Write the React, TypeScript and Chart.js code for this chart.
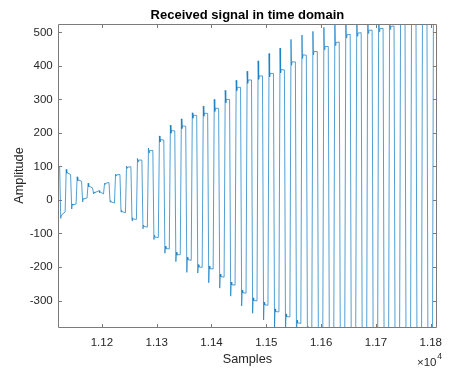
import React, { useEffect, useRef } from "react";
import { Chart, registerables } from "chart.js";

Chart.register(...registerables);

// Samples before the first edge
const leadSamples = [11120, 11123];
const leadValues = [101, 99];

// Each half-period segment starts with an edge at these samples
const segStart = [
  11125, 11135, 11145, 11155, 11165, 11175, 11185, 11195, 11205, 11215,
  11225, 11235, 11245, 11255, 11265, 11275, 11285, 11295, 11305, 11315,
  11325, 11335, 11345, 11355, 11365, 11375, 11385, 11395, 11405, 11415,
  11425, 11435, 11445, 11455, 11465, 11475, 11485, 11495, 11505, 11515,
  11525, 11535, 11545, 11555, 11565, 11575, 11585, 11595, 11605, 11615,
  11625, 11635, 11645, 11655, 11665, 11675, 11685, 11695, 11705, 11715,
  11725, 11735, 11745, 11755, 11765, 11775, 11785, 11795, 11805,
];
// overshoot value right after the edge
const spikeValues = [
  -55, 91, -27, 69, -6, 50, 18, 28, 50, -6,
  77, -36, 101, -62, 124, -86, 155, -118, 191, -159,
  223, -184, 242, -216, 260, -218, 280, -247, 300, -263,
  327, -287, 357, -316, 384, -338, 415, -358, 437, -385,
  453, -395, 479, -410, 492, -425, 503, -440, 515, -455,
  540, -470, 560, -485, 575, -495, 590, -505, 600, -515,
  610, -525, 625, -535, 640, -545, 655, -555, 665,
];
// ringing dip after the overshoot
const dipValues = [
  -46, 80, -12, 58, 4, 40, 24, 22, 47, -2,
  72, -31, 95, -53, 114, -75, 141, -105, 173, -138,
  199, -156, 213, -171, 244, -193, 250, -197, 264, -221,
  290, -245, 326, -269, 348, -292, 360, -305, 367, -325,
  379, -340, 402, -359, 422, -377, 433, -392, 448, -407,
  461, -422, 484, -437, 489, -449, 497, -459, 502, -469,
  509, -479, 527, -489, 539, -499, 551, -509, 563,
];
// plateau level at start and end of each segment
const levelStart = [
  -44, 81, -15, 60, 3, 41, 22, 24, 50, -6,
  75, -35, 98, -57, 119, -79, 147, -111, 180, -145,
  207, -164, 221, -178, 253, -200, 259, -205, 274, -229,
  300, -253, 336, -277, 358, -300, 370, -313, 378, -333,
  389, -348, 412, -367, 433, -385, 443, -400, 458, -415,
  470, -430, 493, -445, 498, -457, 506, -467, 511, -477,
  518, -487, 536, -497, 548, -507, 560, -517, 572,
];
const levelEnd = [
  -36, 76, -12, 56, 6, 36, 26, 18, 52, -9,
  76, -38, 99, -58, 119, -81, 148, -112, 179, -146,
  206, -163, 220, -180, 252, -201, 258, -206, 273, -230,
  300, -254, 336, -278, 358, -301, 370, -314, 377, -334,
  388, -349, 412, -368, 432, -386, 443, -401, 458, -416,
  471, -431, 494, -446, 499, -458, 507, -468, 512, -478,
  519, -488, 537, -498, 549, -508, 561, -518, 573,
];

const xTickValues = [11200, 11300, 11400, 11500, 11600, 11700, 11800];
const xTickLabels = ["1.12", "1.13", "1.14", "1.15", "1.16", "1.17", "1.18"];
const yTickValues = [-300, -200, -100, 0, 100, 200, 300, 400, 500];
const yTickLabels = ["-300", "-200", "-100", "0", "100", "200", "300", "400", "500"];

const X_MIN = 11120;
const X_MAX = 11811;
const Y_MIN = -379;
const Y_MAX = 525;

const FONT = '"Liberation Sans", Arial, Helvetica, sans-serif';

function buildPoints() {
  const pts: { x: number; y: number }[] = [];
  leadSamples.forEach((x, i) => pts.push({ x, y: leadValues[i] }));
  segStart.forEach((s, i) => {
    pts.push({ x: s, y: spikeValues[i] });
    pts.push({ x: s + 1, y: dipValues[i] });
    pts.push({ x: s + 2, y: levelStart[i] });
    pts.push({ x: s + 8, y: levelEnd[i] });
  });
  return pts;
}

const framePlugin = {
  id: "matlabFrame",
  afterDraw(chart: any) {
    const { ctx, chartArea } = chart;
    const { left, right, top, bottom } = chartArea;
    const xs = chart.scales.x;
    const ys = chart.scales.y;
    ctx.save();
    ctx.strokeStyle = "#7a7a7a";
    ctx.lineWidth = 1;
    const L = Math.floor(left) + 0.5;
    const R = Math.floor(right) + 0.5;
    const T = Math.floor(top) + 0.5;
    const B = Math.floor(bottom) + 0.5;
    ctx.beginPath();
    ctx.rect(L, T, R - L, B - T);
    const tl = 3.5;
    xTickValues.forEach((v) => {
      const px = Math.round(xs.getPixelForValue(v)) + 0.5;
      ctx.moveTo(px, B);
      ctx.lineTo(px, B - tl);
      ctx.moveTo(px, T);
      ctx.lineTo(px, T + tl);
    });
    yTickValues.forEach((v) => {
      const py = Math.round(ys.getPixelForValue(v)) + 0.5;
      ctx.moveTo(L, py);
      ctx.lineTo(L + tl, py);
      ctx.moveTo(R, py);
      ctx.lineTo(R - tl, py);
    });
    ctx.stroke();
    // exponent label
    ctx.fillStyle = "#262626";
    ctx.textBaseline = "middle";
    ctx.textAlign = "right";
    ctx.font = `8.5px ${FONT}`;
    ctx.fillText("4", 442, 357);
    ctx.font = `11.5px ${FONT}`;
    ctx.fillText("\u00d710", 436.5, 363);
    ctx.restore();
  },
};

export default function App() {
  const ref = useRef<HTMLCanvasElement | null>(null);
  useEffect(() => {
    if (!ref.current) return;
    const chart = new Chart(ref.current, {
      type: "line",
      data: {
        datasets: [
          {
            data: buildPoints(),
            borderColor: "#1a7fc4",
            borderWidth: 0.75,
            pointRadius: 0,
            tension: 0,
            fill: false,
            clip: 0,
          } as any,
        ],
      },
      options: {
        animation: false,
        responsive: false,
        devicePixelRatio: 1,
        layout: { padding: { left: 0, right: 8, top: 0, bottom: 0 } },
        plugins: {
          legend: { display: false },
          tooltip: { enabled: false },
          title: {
            display: true,
            text: "Received signal in time domain",
            fullSize: false,
            color: "#000000",
            font: { family: FONT, size: 13, weight: "bold", lineHeight: 1.2 },
            padding: { top: 7.2, bottom: 1.2 },
          },
        },
        scales: {
          x: {
            type: "linear",
            min: X_MIN,
            max: X_MAX,
            grid: { display: false, drawTicks: false },
            border: { display: false },
            afterBuildTicks: (s: any) => {
              s.ticks = xTickValues.map((v) => ({ value: v }));
            },
            ticks: {
              autoSkip: false,
              maxRotation: 0,
              color: "#262626",
              padding: 8.8,
              font: { family: FONT, size: 11.5 },
              callback: (_v: any, i: number) => xTickLabels[i],
            },
            title: {
              display: true,
              text: "Samples",
              color: "#262626",
              font: { family: FONT, size: 12.7, lineHeight: 1.2 },
              padding: { top: 0, bottom: 1.3 },
            },
            afterFit: (s: any) => {
              s.height = 41;
            },
          },
          y: {
            type: "linear",
            min: Y_MIN,
            max: Y_MAX,
            grid: { display: false, drawTicks: false },
            border: { display: false },
            afterBuildTicks: (s: any) => {
              s.ticks = yTickValues.map((v) => ({ value: v }));
            },
            ticks: {
              autoSkip: false,
              color: "#262626",
              padding: 5.3,
              font: { family: FONT, size: 11.5 },
              callback: (_v: any, i: number) => yTickLabels[i],
            },
            title: {
              display: true,
              text: "Amplitude",
              color: "#262626",
              font: { family: FONT, size: 12.7, lineHeight: 1.2 },
              padding: { top: 11.4, bottom: 0 },
            },
            afterFit: (s: any) => {
              s.width = 58;
            },
          },
        },
      },
      plugins: [framePlugin],
    });
    return () => chart.destroy();
  }, []);
  return (
    <div style={{ position: "fixed", left: 0, top: 0, width: 451, height: 368, background: "#fff" }}>
      <canvas ref={ref} width={451} height={368} style={{ display: "block" }} />
    </div>
  );
}
